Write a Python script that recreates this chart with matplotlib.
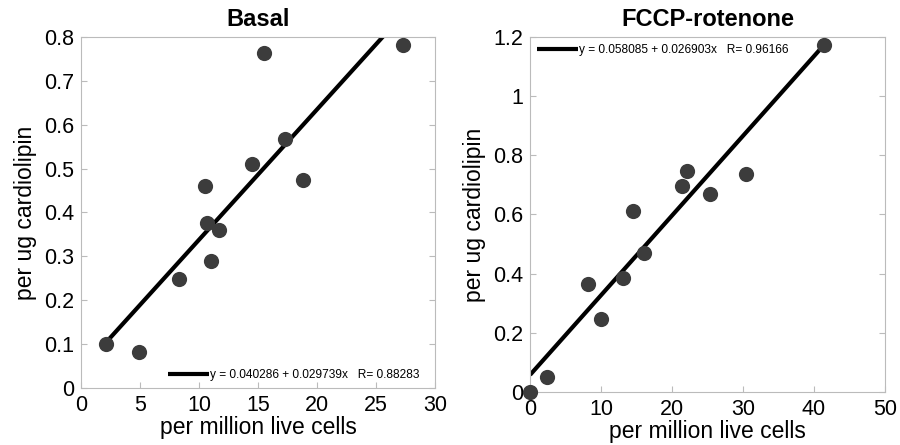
import numpy as np
import matplotlib.pyplot as plt

plt.rcParams['font.family'] = ['Liberation Sans', 'DejaVu Sans']

# Basal
basal_x = [2.1, 4.9, 8.3, 10.5, 10.7, 11.0, 11.7, 14.5, 15.5, 17.3, 18.8, 27.3]
basal_y = [0.100, 0.082, 0.249, 0.460, 0.375, 0.289, 0.361, 0.510, 0.764, 0.567, 0.474, 0.781]
basal_fit = (0.040286, 0.029739, 0.88283)
basal_xticks = [0, 5, 10, 15, 20, 25, 30]

# FCCP-rotenone
fccp_x = [0.0, 2.4, 8.1, 10.0, 13.1, 14.5, 16.0, 21.4, 22.1, 25.4, 30.5, 41.5]
fccp_y = [0.000, 0.050, 0.365, 0.246, 0.386, 0.612, 0.470, 0.697, 0.748, 0.670, 0.737, 1.172]
fccp_fit = (0.058085, 0.026903, 0.96166)
fccp_xticks = [0, 10, 20, 30, 40, 50]

fig = plt.figure(figsize=(9, 4.45), dpi=100)
ax1 = fig.add_axes([0.0897, 0.128, 0.394, 0.789])
ax2 = fig.add_axes([0.589, 0.119, 0.394, 0.798])


def panel(ax, xs, ys, fit, title, xticks, ylim, yticks, yticklabels, legloc, bbox):
    a, b, r = fit
    xx = np.array([min(xs), max(xs)])
    ln, = ax.plot(xx, a + b * xx, color='black', lw=3, solid_capstyle='butt')
    ax.scatter(xs, ys, s=120, color='#3c3c3c', zorder=3, clip_on=False, linewidths=0)
    ax.set_xlim(xticks[0], xticks[-1])
    ax.set_xticks(xticks)
    ax.set_ylim(*ylim)
    ax.set_yticks(yticks)
    ax.set_yticklabels(yticklabels)
    ax.tick_params(direction='in', length=4, color='#bbbbbb', labelsize=15.5,
                   right=True, top=False, pad=5)
    for s in ax.spines.values():
        s.set_color('#bbbbbb')
    ax.set_title(title, fontsize=17, fontweight='bold', pad=8)
    ax.set_xlabel('per million live cells', fontsize=16.5, labelpad=0)
    ax.set_ylabel('per ug cardiolipin', fontsize=16.5, labelpad=5)
    ax.legend([ln], ['y = %g + %gx   R= %g' % (a, b, r)], loc=legloc,
              bbox_to_anchor=bbox, frameon=False, fontsize=8.6,
              handlelength=3.4, handletextpad=0.1, borderaxespad=0.2)


panel(ax1, basal_x, basal_y, basal_fit, 'Basal', basal_xticks, (0, 0.8),
      [0, 0.1, 0.2, 0.3, 0.4, 0.5, 0.6, 0.7, 0.8],
      ['0', '0.1', '0.2', '0.3', '0.4', '0.5', '0.6', '0.7', '0.8'],
      'lower right', (0.975, 0.0))
panel(ax2, fccp_x, fccp_y, fccp_fit, 'FCCP-rotenone', fccp_xticks, (0, 1.2),
      [0, 0.2, 0.4, 0.6, 0.8, 1.0, 1.2],
      ['0', '0.2', '0.4', '0.6', '0.8', '1', '1.2'],
      'upper left', (0.0, 1.0))

fig.savefig('out.png', dpi=100)
